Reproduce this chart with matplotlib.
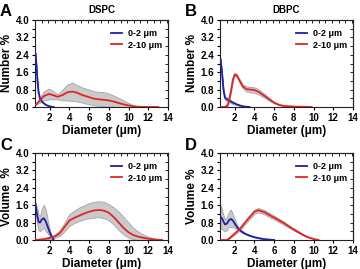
import numpy as np
import matplotlib
matplotlib.use("Agg")
import matplotlib.pyplot as plt

plt.rcParams['font.family'] = ['Liberation Sans', 'DejaVu Sans']
plt.rcParams['font.weight'] = 'bold'

BLUE = '#1f1fa8'
RED = '#e02424'
BAND = '#cacaca'

# ---- A: DSPC number %
a_blue_x = [0.55, 0.65, 0.75, 0.85, 1.0, 1.2, 1.5, 1.8, 2.1, 2.4]
a_blue_y = [2.45, 1.9, 1.2, 0.7, 0.4, 0.25, 0.13, 0.06, 0.02, 0.0]
a_blue_hi = [2.5, 1.95, 1.25, 0.75, 0.45, 0.28, 0.15, 0.07, 0.02, 0.0]
a_blue_lo = [2.4, 1.85, 1.15, 0.65, 0.35, 0.22, 0.11, 0.05, 0.01, 0.0]
a_red_x = [0.6, 1.0, 1.4, 1.9, 2.3, 2.8, 3.3, 3.8, 4.3, 4.8, 5.3, 6.0, 6.5, 7.0, 7.5, 8.0,
           8.5, 9.0, 9.5, 10.0, 10.5, 11.0, 12.0, 13.0]
a_red_y = [0.12, 0.3, 0.5, 0.6, 0.55, 0.47, 0.55, 0.68, 0.71, 0.65, 0.55, 0.45, 0.38, 0.35,
           0.33, 0.3, 0.25, 0.18, 0.12, 0.07, 0.03, 0.01, 0.0, 0.0]
a_red_hi = [0.15, 0.45, 0.72, 0.85, 0.75, 0.58, 0.8, 1.05, 1.12, 1.0, 0.9, 0.8, 0.72, 0.7,
            0.68, 0.62, 0.52, 0.42, 0.3, 0.18, 0.08, 0.03, 0.0, 0.0]
a_red_lo = [0.1, 0.2, 0.3, 0.35, 0.35, 0.35, 0.3, 0.3, 0.28, 0.25, 0.2, 0.12, 0.08, 0.05,
            0.03, 0.02, 0.01, 0.0, 0.0, 0.0, 0.0, 0.0, 0.0, 0.0]

# ---- B: DBPC number %
b_blue_x = [0.55, 0.7, 0.85, 1.0, 1.2, 1.5, 1.8, 2.2, 2.6, 3.0, 3.5]
b_blue_y = [2.2, 1.6, 0.8, 0.42, 0.35, 0.28, 0.2, 0.12, 0.06, 0.02, 0.0]
b_blue_hi = [2.25, 1.65, 0.9, 0.5, 0.45, 0.36, 0.26, 0.15, 0.08, 0.03, 0.0]
b_blue_lo = [2.15, 1.55, 0.7, 0.35, 0.27, 0.2, 0.14, 0.09, 0.04, 0.01, 0.0]
b_red_x = [0.6, 1.0, 1.3, 1.6, 1.8, 2.0, 2.2, 2.5, 2.8, 3.2, 3.6, 4.0, 4.4, 4.8, 5.2, 5.6,
           6.0, 6.5, 7.0, 8.0, 9.0, 9.8]
b_red_y = [0.0, 0.0, 0.1, 0.7, 1.25, 1.5, 1.45, 1.2, 0.95, 0.82, 0.8, 0.78, 0.7, 0.58, 0.45,
           0.32, 0.2, 0.1, 0.05, 0.02, 0.01, 0.0]
b_red_hi = [0.0, 0.02, 0.15, 0.78, 1.32, 1.56, 1.52, 1.28, 1.05, 0.95, 0.93, 0.9, 0.82, 0.68,
            0.53, 0.38, 0.24, 0.12, 0.06, 0.03, 0.01, 0.0]
b_red_lo = [0.0, 0.0, 0.05, 0.62, 1.18, 1.44, 1.38, 1.12, 0.86, 0.7, 0.67, 0.65, 0.58, 0.48,
            0.37, 0.26, 0.16, 0.08, 0.04, 0.01, 0.0, 0.0]

# ---- C: DSPC volume %
c_blue_x = [0.55, 0.7, 0.85, 1.0, 1.2, 1.4, 1.6, 1.8, 2.0, 2.2, 2.4]
c_blue_y = [1.65, 1.2, 0.85, 0.8, 0.95, 1.0, 0.85, 0.6, 0.35, 0.15, 0.0]
c_blue_hi = [1.75, 1.5, 1.2, 1.1, 1.45, 1.62, 1.4, 0.9, 0.5, 0.2, 0.0]
c_blue_lo = [1.4, 0.8, 0.45, 0.4, 0.5, 0.55, 0.4, 0.3, 0.15, 0.05, 0.0]
c_red_x = [0.6, 1.0, 1.5, 2.0, 2.5, 3.0, 3.5, 4.0, 4.5, 5.0, 5.5, 6.0, 6.5, 7.0, 7.5, 8.0,
           8.5, 9.0, 9.5, 10.0, 10.5, 11.0, 11.5, 12.0, 12.5, 13.0, 13.4]
c_red_y = [0.0, 0.02, 0.05, 0.1, 0.16, 0.3, 0.6, 0.9, 1.02, 1.12, 1.22, 1.3, 1.36, 1.38,
           1.35, 1.25, 1.05, 0.8, 0.55, 0.35, 0.22, 0.15, 0.1, 0.06, 0.03, 0.01, 0.0]
c_red_hi = [0.0, 0.03, 0.08, 0.15, 0.25, 0.45, 0.8, 1.2, 1.35, 1.5, 1.6, 1.7, 1.76, 1.78,
            1.75, 1.65, 1.5, 1.3, 1.05, 0.8, 0.55, 0.38, 0.25, 0.15, 0.08, 0.03, 0.0]
c_red_lo = [0.0, 0.01, 0.02, 0.05, 0.1, 0.18, 0.4, 0.65, 0.78, 0.88, 0.95, 1.0, 1.03, 1.05,
            1.0, 0.9, 0.7, 0.45, 0.25, 0.1, 0.03, 0.0, 0.0, 0.0, 0.0, 0.0, 0.0]

# ---- D: DBPC volume %
d_blue_x = [0.55, 0.7, 0.85, 1.0, 1.2, 1.4, 1.6, 1.8, 2.0, 2.3, 2.6, 3.0, 3.5, 4.0, 4.5,
            5.0, 5.5, 6.0]
d_blue_y = [1.05, 1.0, 0.85, 0.72, 0.75, 0.9, 0.97, 0.9, 0.75, 0.55, 0.42, 0.3, 0.2, 0.13,
            0.08, 0.04, 0.02, 0.0]
d_blue_hi = [1.6, 1.4, 1.15, 0.95, 1.05, 1.3, 1.4, 1.2, 0.95, 0.65, 0.47, 0.33, 0.22, 0.15,
             0.09, 0.05, 0.02, 0.0]
d_blue_lo = [0.55, 0.5, 0.45, 0.4, 0.45, 0.6, 0.6, 0.6, 0.55, 0.45, 0.37, 0.27, 0.18, 0.11,
             0.07, 0.03, 0.01, 0.0]
d_red_x = [0.5, 0.8, 1.2, 1.5, 2.0, 2.5, 3.0, 3.5, 4.0, 4.4, 5.0, 5.5, 6.0, 6.5, 7.0, 7.5,
           8.0, 8.5, 9.0, 9.5, 10.0, 10.5]
d_red_y = [0.0, 0.0, 0.0, 0.1, 0.3, 0.5, 0.78, 1.05, 1.3, 1.37, 1.28, 1.15, 1.03, 0.9, 0.77,
           0.62, 0.48, 0.35, 0.22, 0.12, 0.05, 0.0]
d_red_hi = [0.0, 0.0, 0.0, 0.12, 0.35, 0.57, 0.86, 1.14, 1.4, 1.47, 1.38, 1.25, 1.12, 0.98,
            0.84, 0.68, 0.53, 0.39, 0.25, 0.14, 0.06, 0.0]
d_red_lo = [0.0, 0.0, 0.0, 0.08, 0.25, 0.43, 0.7, 0.96, 1.2, 1.27, 1.18, 1.05, 0.94, 0.82,
            0.7, 0.56, 0.43, 0.31, 0.19, 0.1, 0.04, 0.0]

panels = [
    ('A', 'DSPC', 'Number %', (35, 20), a_blue_x, a_blue_y, a_blue_hi, a_blue_lo,
     a_red_x, a_red_y, a_red_hi, a_red_lo),
    ('B', 'DBPC', 'Number %', (220, 20), b_blue_x, b_blue_y, b_blue_hi, b_blue_lo,
     b_red_x, b_red_y, b_red_hi, b_red_lo),
    ('C', '', 'Volume  %', (35, 153), c_blue_x, c_blue_y, c_blue_hi, c_blue_lo,
     c_red_x, c_red_y, c_red_hi, c_red_lo),
    ('D', '', 'Volume %', (220, 153), d_blue_x, d_blue_y, d_blue_hi, d_blue_lo,
     d_red_x, d_red_y, d_red_hi, d_red_lo),
]

W, H = 360, 269
fig = plt.figure(figsize=(W / 100, H / 100), dpi=100)

for (letter, title, ylab, (px, py), bx, by, bhi, blo, rx, ry, rhi, rlo) in panels:
    aw, ah = 133, 87
    ax = fig.add_axes([px / W, 1 - (py + ah) / H, aw / W, ah / H])
    ax.fill_between(bx, blo, bhi, color=BAND, lw=0.5, edgecolor='#9a9a9a', zorder=1)
    ax.fill_between(rx, rlo, rhi, color=BAND, lw=0.5, edgecolor='#9a9a9a', zorder=1)
    ax.plot(bx, by, color=BLUE, lw=1.3, label='0-2 \u03bcm', zorder=3)
    ax.plot(rx, ry, color=RED, lw=1.3, label='2-10 \u03bcm', zorder=3)

    ax.set_xlim(0.5, 14)
    ax.set_ylim(0, 4.0)
    ax.set_xticks(np.arange(2, 15, 2))
    ax.set_yticks(np.arange(0, 4.01, 0.8))
    ax.set_yticks(np.arange(0.4, 4.0, 0.8), minor=True)
    ax.set_yticklabels(['%.1f' % v for v in np.arange(0, 4.01, 0.8)])
    ax.tick_params(axis='both', which='major', labelsize=7, length=2.5, width=0.8,
                   pad=1.5, direction='out')
    ax.tick_params(axis='y', which='minor', length=2, width=0.8, direction='out')
    for lab in ax.get_xticklabels() + ax.get_yticklabels():
        lab.set_fontweight('bold')

    top = ax.secondary_xaxis('top')
    top.set_xticks(np.arange(1.2, 14, 2 / 3))
    top.tick_params(direction='in', length=2, width=0.6, labeltop=False)
    right = ax.secondary_yaxis('right')
    right.set_yticks(np.arange(0.4, 4.0, 0.4))
    right.tick_params(direction='in', length=2, width=0.6, labelright=False)
    for sp in list(ax.spines.values()) + [top.spines['top'], right.spines['right']]:
        sp.set_linewidth(0.8)
        sp.set_color('#222222')

    ax.set_xlabel('Diameter (\u03bcm)', fontsize=8.5, fontweight='bold', labelpad=2)
    ax.set_ylabel(ylab, fontsize=8.5, fontweight='bold', labelpad=2)
    if title:
        ax.set_title(title, fontsize=7, fontweight='bold', pad=5)

    leg = ax.legend(loc='upper right', fontsize=6.5, frameon=False, handlelength=1.2,
                    handletextpad=0.6, labelspacing=0.3, borderaxespad=0.3,
                    bbox_to_anchor=(1.0, 0.97))
    for t in leg.get_texts():
        t.set_fontweight('bold')

    fig.text((px - 35) / W, 1 - (py - 8) / H, letter, fontsize=12, fontweight='bold',
             va='center', ha='left')

fig.savefig('out.png', dpi=100)
